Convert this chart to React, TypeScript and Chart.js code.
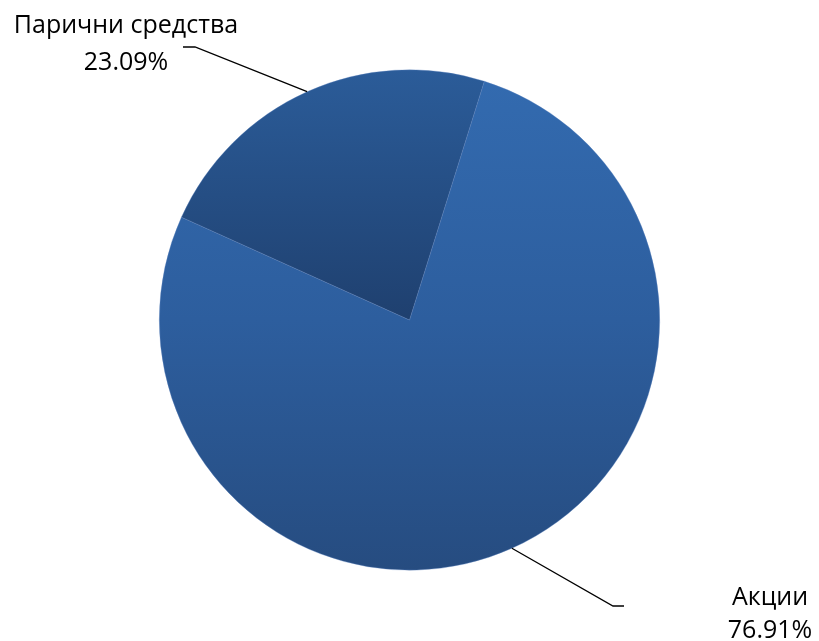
import React, { useEffect, useRef } from "react";
import { Chart, registerables } from "chart.js";

Chart.register(...registerables);

const categories = ["Акции", "Парични средства"];
const values = [76.91, 23.09];
const valueLabels = ["76.91%", "23.09%"];

const FONT = "'Open Sans', sans-serif";

const labelPlugin = {
  id: "excelLabels",
  afterDatasetsDraw(chart: any) {
    const ctx = chart.ctx;
    const meta = chart.getDatasetMeta(0);
    ctx.save();
    ctx.font = `25px ${FONT}`;
    ctx.fillStyle = "#000";
    ctx.textAlign = "center";
    ctx.textBaseline = "alphabetic";
    ctx.strokeStyle = "#000";
    ctx.lineWidth = 1.3;
    const layout = [
      { x: 770, y1: 605, y2: 638, elbow: [613, 606], end: [624, 606] },
      { x: 126, y1: 33, y2: 70, elbow: [195, 47], end: [183, 47] },
    ];
    meta.data.forEach((arc: any, i: number) => {
      const mid = (arc.startAngle + arc.endAngle) / 2;
      const px = arc.x + Math.cos(mid) * arc.outerRadius;
      const py = arc.y + Math.sin(mid) * arc.outerRadius;
      const L = layout[i];
      ctx.beginPath();
      ctx.moveTo(px, py);
      ctx.lineTo(L.elbow[0], L.elbow[1]);
      ctx.lineTo(L.end[0], L.end[1]);
      ctx.stroke();
      ctx.fillText(categories[i], L.x, L.y1);
      ctx.fillText(valueLabels[i], L.x, L.y2);
    });
    ctx.restore();
  },
};

export default function App() {
  const ref = useRef<HTMLCanvasElement>(null);
  useEffect(() => {
    if (!ref.current) return;
    const chart = new Chart(ref.current, {
      type: "pie",
      data: {
        labels: categories,
        datasets: [
          {
            data: values,
            borderWidth: 0.6,
            borderColor: "rgba(90,130,190,0.6)",
            backgroundColor: (c: any) => {
              const ch = c.chart;
              const area = ch.chartArea;
              if (!area) return c.dataIndex === 0 ? "#2d5c9a" : "#254b80";
              const cy = (area.top + area.bottom) / 2;
              const r = Math.min(area.right - area.left, area.bottom - area.top) / 2;
              const ctx = ch.ctx;
              if (c.dataIndex === 0) {
                const g = ctx.createLinearGradient(0, cy - r, 0, cy + r);
                g.addColorStop(0, "#336bb0");
                g.addColorStop(0.5, "#2d5e9e");
                g.addColorStop(1, "#264c80");
                return g;
              }
              const g = ctx.createLinearGradient(0, cy - r, 0, cy);
              g.addColorStop(0, "#2b5c99");
              g.addColorStop(1, "#1f406f");
              return g;
            },
          },
        ],
      },
      options: {
        responsive: false,
        animation: false,
        rotation: 17.4,
        layout: { padding: { left: 159, right: 159, top: 69, bottom: 70 } },
        plugins: {
          legend: { display: false },
          tooltip: { enabled: false },
        },
        events: [],
      },
      plugins: [labelPlugin],
    });
    return () => chart.destroy();
  }, []);
  return (
    <div style={{ position: "fixed", left: 0, top: 0, width: 819, height: 641, background: "#fff" }}>
      <canvas ref={ref} width={819} height={641} style={{ width: 819, height: 641 }} />
    </div>
  );
}
